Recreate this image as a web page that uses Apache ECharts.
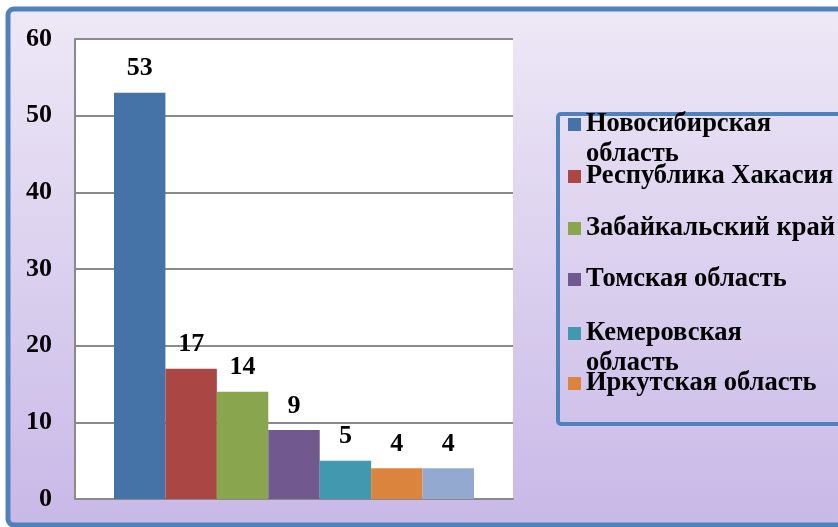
<!DOCTYPE html>
<html>
<head>
<meta charset="utf-8">
<script src="https://cdn.jsdelivr.net/npm/echarts@6/dist/echarts.min.js"></script>
<style>
  html, body { margin: 0; padding: 0; background: #fff; }
  #chart { width: 838px; height: 527px; }
</style>
</head>
<body>
<div id="chart"></div>
<script>
// регионы и значения (7-й ряд в легенду не попал)
const regions = [
  'Новосибирская область',
  'Республика Хакасия',
  'Забайкальский край',
  'Томская область',
  'Кемеровская область',
  'Иркутская область',
  'Прочие'
];
const values = [53, 17, 14, 9, 5, 4, 4];
const colors = ['#4572A7', '#AA4643', '#89A54E', '#71588F', '#4198AF', '#DB843D', '#93A9CF'];
const yTicks = { min: 0, max: 60, interval: 10 };

const serif = "'Liberation Serif', 'Times New Roman', serif";
const lineH = 30;
// верх значка легенды для каждого пункта
const iconTops = [118, 170, 222, 273, 327, 377];
const twoLine = [true, false, false, false, true, false];

const chart = echarts.init(document.getElementById('chart'));

const legends = iconTops.map((t, i) => {
  const wrap = twoLine[i];
  return {
    data: [regions[i]],
    left: 568,
    top: wrap ? t + 6.5 - 1.5 * lineH : t + 6.5 - lineH / 2,
    padding: 0,
    itemWidth: 13,
    itemHeight: 13,
    icon: 'rect',
    selectedMode: false,
    // пустая первая строка сдвигает перенос вниз, значок остаётся у первой строки
    formatter: (name) => wrap ? '\n' + name.replace(' ', '\n') : name,
    textStyle: {
      fontFamily: serif,
      fontWeight: 'bold',
      fontSize: 26.5,
      color: '#000',
      lineHeight: lineH
    }
  };
});

const option = {
  animation: false,
  backgroundColor: '#fff',
  graphic: [
    {
      type: 'rect',
      z: -10,
      shape: { x: 8, y: 9, width: 850, height: 516, r: 6 },
      style: {
        fill: new echarts.graphic.LinearGradient(0, 0, 0, 1, [
          { offset: 0, color: '#EEE8F6' },
          { offset: 1, color: '#C8B8E7' }
        ]),
        stroke: '#4F81BD',
        lineWidth: 5
      }
    },
    {
      type: 'rect',
      z: -9,
      shape: { x: 558, y: 114, width: 300, height: 310, r: 3 },
      style: { fill: 'transparent', stroke: '#4F81BD', lineWidth: 4 }
    }
  ],
  grid: {
    left: 75,
    right: 325,
    top: 39,
    bottom: 28,
    show: true,
    backgroundColor: '#fff',
    borderWidth: 0
  },
  legend: legends,
  xAxis: {
    type: 'category',
    data: [''],
    axisLine: { show: true, lineStyle: { color: '#8A8A8A', width: 2 } },
    axisTick: { show: false },
    axisLabel: { show: false }
  },
  yAxis: {
    type: 'value',
    min: yTicks.min,
    max: yTicks.max,
    interval: yTicks.interval,
    axisLine: { show: true, lineStyle: { color: '#8A8A8A', width: 2 } },
    axisTick: { show: false },
    axisLabel: {
      margin: 23,
      color: '#000',
      fontFamily: serif,
      fontWeight: 'bold',
      fontSize: 26
    },
    splitLine: { lineStyle: { color: '#8A8A8A', width: 2 } }
  },
  series: regions.map((name, i) => ({
    name: name,
    type: 'bar',
    data: [values[i]],
    barGap: '0%',
    barCategoryGap: '17.8%',
    itemStyle: { color: colors[i] },
    label: {
      show: true,
      position: 'top',
      distance: 11,
      color: '#000',
      fontFamily: serif,
      fontWeight: 'bold',
      fontSize: 26
    }
  }))
};

chart.setOption(option);
</script>
</body>
</html>
